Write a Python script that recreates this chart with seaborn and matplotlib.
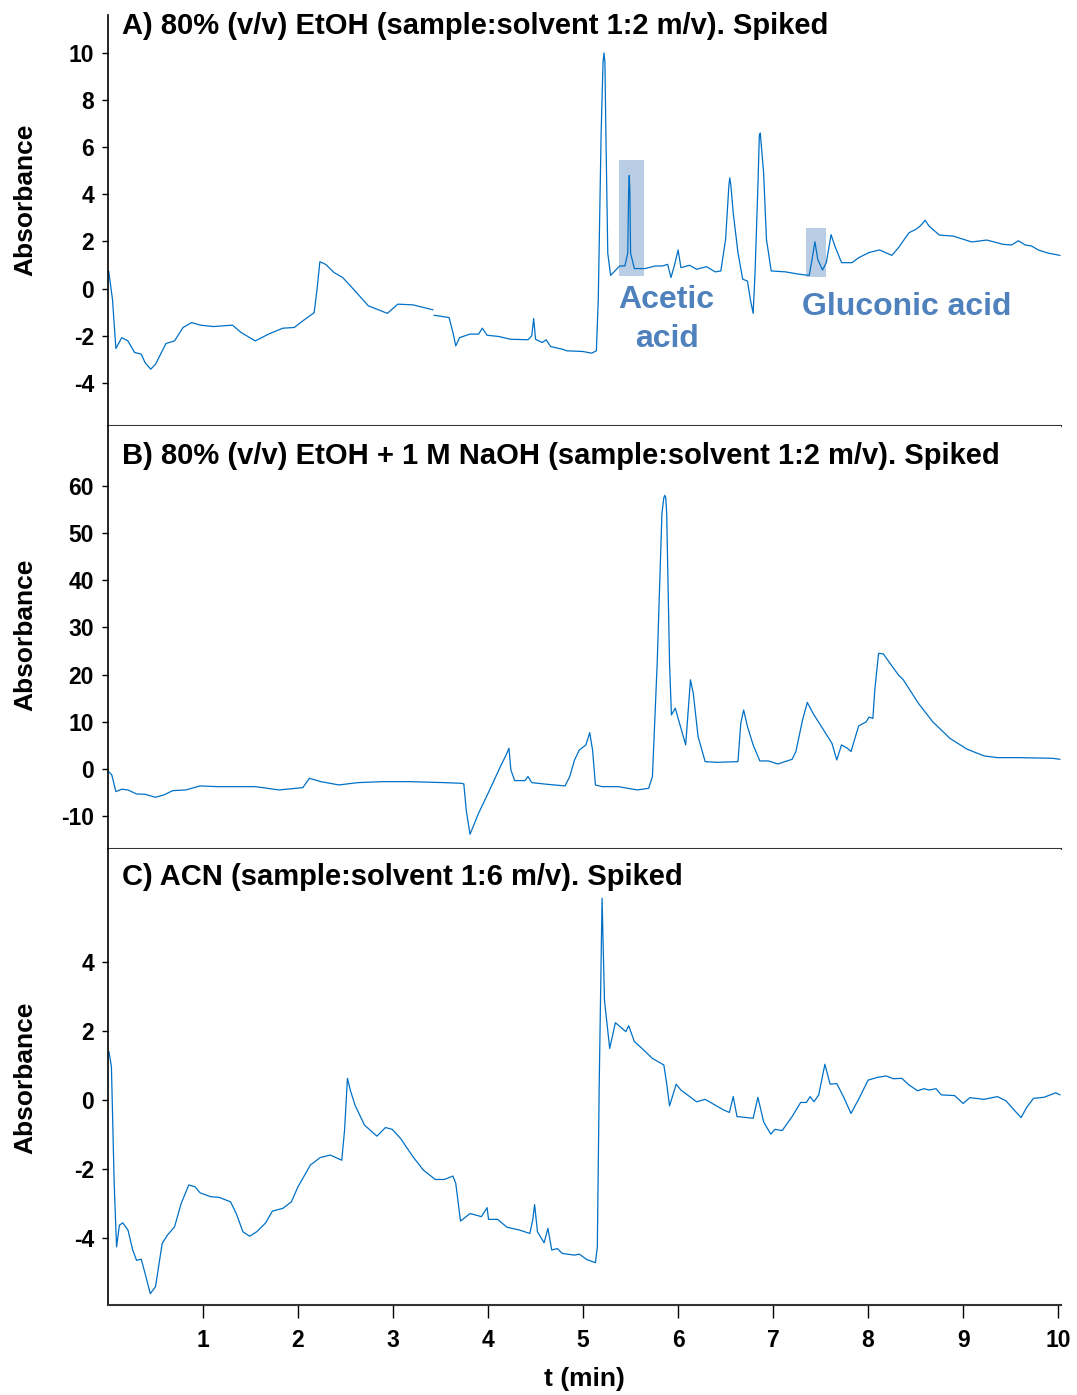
import numpy as np
import pandas as pd
import matplotlib
matplotlib.use("Agg")
import matplotlib.pyplot as plt
import seaborn as sns

sns.set_style("ticks")
plt.rcParams['font.family'] = ['Liberation Sans', 'DejaVu Sans']
plt.rcParams['axes.unicode_minus'] = False
plt.rcParams['text.color'] = 'black'
plt.rcParams['axes.labelcolor'] = 'black'
plt.rcParams['xtick.color'] = 'black'
plt.rcParams['ytick.color'] = 'black'

# --- panel A : 80% EtOH, spiked ---
tA1 = [0.007, 0.047, 0.083, 0.145, 0.21, 0.28, 0.35, 0.39, 0.45, 0.50, 0.61, 0.70, 0.79, 0.88,
       0.97, 1.11, 1.31, 1.40, 1.55, 1.69, 1.84, 1.96, 2.05, 2.17, 2.20, 2.23, 2.29, 2.38, 2.47,
       2.60, 2.74, 2.94, 3.05, 3.21, 3.42]
vA1 = [0.75, -0.45, -2.54, -2.08, -2.22, -2.71, -2.78, -3.14, -3.42, -3.21, -2.33, -2.22, -1.65, -1.44,
       -1.55, -1.61, -1.55, -1.86, -2.22, -1.93, -1.68, -1.65, -1.37, -1.02, -0.03, 1.14, 1.03, 0.68, 0.47,
       -0.10, -0.73, -1.05, -0.66, -0.69, -0.90]
tA2 = [3.43, 3.59, 3.63, 3.66, 3.70, 3.81, 3.90, 3.94, 3.99, 4.11, 4.24, 4.42, 4.46, 4.48, 4.50,
       4.57, 4.61, 4.66, 4.78, 4.83, 5.00, 5.09, 5.14, 5.16, 5.19, 5.21, 5.22, 5.23, 5.24, 5.26, 5.29, 5.385,
       5.44, 5.47, 5.48, 5.486, 5.492, 5.50, 5.54, 5.65, 5.76, 5.835, 5.89, 5.925, 5.96, 6.00, 6.03, 6.12, 6.195,
       6.30, 6.39, 6.45, 6.50, 6.535, 6.544, 6.555, 6.58, 6.63, 6.68, 6.73, 6.76, 6.79, 6.81, 6.84, 6.855, 6.865, 6.90,
       6.93, 6.98, 7.13, 7.275, 7.38, 7.41, 7.44, 7.47, 7.52, 7.56, 7.61, 7.65, 7.72, 7.83, 7.90,
       8.01, 8.12, 8.25, 8.32, 8.43, 8.50, 8.55, 8.60, 8.64, 8.75, 8.895, 9.09, 9.25, 9.42, 9.51,
       9.58, 9.655, 9.72, 9.79, 9.90, 10.02]
vA2 = [-1.13, -1.23, -1.86, -2.43, -2.08, -1.93, -1.93, -1.68, -1.98, -2.03, -2.15, -2.17, -2.0, -1.27, -2.15,
       -2.29, -2.17, -2.46, -2.57, -2.64, -2.67, -2.74, -2.64, -0.45, 6.6, 9.6, 10.0, 9.6, 6.6, 1.5, 0.56, 0.96,
       0.96, 1.5, 4.2, 4.8, 4.2, 1.5, 0.85, 0.85, 0.96, 0.96, 1.03, 0.47, 0.96, 1.64, 0.89, 0.99, 0.82,
       0.93, 0.71, 0.75, 2.09, 4.4, 4.70, 4.4, 3.22, 1.53, 0.40, 0.32, -0.45, -1.05, 0.68, 4.35, 6.5, 6.6, 4.92,
       2.09, 0.75, 0.71, 0.61, 0.56, 1.24, 1.99, 1.24, 0.79, 1.10, 2.29, 1.81, 1.10, 1.10, 1.31,
       1.53, 1.64, 1.41, 1.74, 2.37, 2.51, 2.66, 2.90, 2.66, 2.27, 2.23, 1.98, 2.06, 1.88, 1.85,
       2.03, 1.85, 1.81, 1.64, 1.50, 1.41]

# --- panel B : 80% EtOH + 1 M NaOH, spiked ---
tB = [0.007, 0.04, 0.083, 0.145, 0.21, 0.30, 0.39, 0.50, 0.59, 0.68, 0.82, 0.97, 1.15, 1.55,
      1.80, 2.05, 2.12, 2.24, 2.43, 2.63, 2.89, 3.17, 3.54, 3.72, 3.745, 3.77, 3.81, 3.90, 4.0,
      4.13, 4.19, 4.22, 4.24, 4.28, 4.39, 4.42, 4.46, 4.62, 4.81, 4.86, 4.91, 4.96, 5.03, 5.07,
      5.10, 5.13, 5.20, 5.37, 5.57, 5.69, 5.73, 5.78, 5.83, 5.85, 5.86, 5.87, 5.88, 5.91, 5.93, 5.97, 6.015,
      6.08, 6.13, 6.16, 6.21, 6.285, 6.41, 6.63, 6.66, 6.69, 6.73, 6.79, 6.86, 6.95, 7.05, 7.20,
      7.24, 7.31, 7.36, 7.42, 7.53, 7.62, 7.67, 7.72, 7.78, 7.82, 7.90, 7.98, 8.01, 8.05, 8.07,
      8.11, 8.16, 8.23, 8.32, 8.37, 8.53, 8.68, 8.86, 9.04, 9.22, 9.36, 9.58, 9.94, 10.02]
vB = [-0.57, -1.27, -4.8, -4.3, -4.45, -5.3, -5.37, -6.0, -5.5, -4.6, -4.45, -3.6, -3.75, -3.75,
      -4.45, -3.96, -1.98, -2.69, -3.39, -2.9, -2.69, -2.69, -2.9, -3.04, -3.18, -8.7, -13.85, -9.4, -5.16,
      0.5, 2.97, 4.38, -0.2, -2.47, -2.47, -1.6, -2.9, -3.25, -3.6, -1.6, 1.9, 4.0, 5.1, 7.7,
      4.0, -3.4, -3.75, -3.75, -4.45, -4.1, -1.6, 22.4, 54.2, 57.5, 58.0, 57.5, 54.2, 22.4, 11.45, 12.9, 9.7,
      5.1, 18.9, 16.0, 6.9, 1.55, 1.4, 1.55, 9.7, 12.5, 9.0, 5.1, 1.7, 1.7, 1.06, 2.05,
      3.7, 10.4, 14.1, 11.8, 8.3, 5.4, 1.9, 5.1, 4.4, 3.7, 9.1, 10.0, 11.0, 10.7, 16.7,
      24.5, 24.4, 22.4, 19.9, 18.9, 13.9, 10.0, 6.5, 4.2, 2.76, 2.4, 2.4, 2.26, 2.05]

# --- panel C : ACN, spiked ---
tC = [0.01, 0.036, 0.065, 0.09, 0.12, 0.155, 0.21, 0.26, 0.30, 0.35, 0.39, 0.445, 0.50, 0.57,
      0.625, 0.70, 0.77, 0.85, 0.915, 0.97, 1.08, 1.17, 1.29, 1.35, 1.42, 1.49, 1.565, 1.66, 1.73,
      1.84, 1.93, 2.0, 2.13, 2.235, 2.34, 2.46, 2.49, 2.52, 2.55, 2.60, 2.70, 2.83, 2.92, 2.99,
      3.08, 3.21, 3.32, 3.445, 3.54, 3.63, 3.66, 3.71, 3.81, 3.93, 3.99, 4.005, 4.10, 4.20, 4.33,
      4.44, 4.47, 4.49, 4.52, 4.59, 4.63, 4.67, 4.73, 4.78, 4.91, 4.96, 5.04, 5.13, 5.15, 5.17,
      5.20, 5.225, 5.28, 5.34, 5.45, 5.48, 5.54, 5.62, 5.73, 5.85, 5.88, 5.91, 5.98, 6.03, 6.195,
      6.285, 6.48, 6.54, 6.58, 6.62, 6.79, 6.84, 6.90, 6.93, 6.976, 7.02, 7.095, 7.20, 7.29, 7.35,
      7.39, 7.43, 7.48, 7.545, 7.60, 7.67, 7.74, 7.82, 7.905, 8.0, 8.10, 8.19, 8.265, 8.355, 8.43,
      8.52, 8.59, 8.64, 8.715, 8.77, 8.91, 9.0, 9.07, 9.22, 9.36, 9.45, 9.52, 9.61, 9.67, 9.74,
      9.85, 9.975, 10.02]
vC = [1.41, 0.97, -2.42, -4.27, -3.64, -3.57, -3.78, -4.36, -4.66, -4.63, -5.04, -5.63, -5.43, -4.17,
      -3.93, -3.69, -3.01, -2.47, -2.52, -2.70, -2.81, -2.83, -2.96, -3.30, -3.83, -3.96, -3.83, -3.57, -3.23,
      -3.15, -2.96, -2.52, -1.89, -1.67, -1.60, -1.75, -0.87, 0.63, 0.29, -0.15, -0.73, -1.05, -0.80, -0.85,
      -1.12, -1.65, -2.04, -2.31, -2.31, -2.21, -2.42, -3.52, -3.30, -3.39, -3.13, -3.47, -3.47, -3.70, -3.78,
      -3.88, -3.49, -3.04, -3.83, -4.15, -3.73, -4.36, -4.32, -4.46, -4.51, -4.48, -4.64, -4.73, -4.27, 0.48,
      5.87, 2.91, 1.50, 2.25, 1.99, 2.16, 1.70, 1.50, 1.21, 1.02, 0.48, -0.17, 0.46, 0.29, -0.05,
      0.02, -0.29, -0.36, 0.10, -0.48, -0.53, 0.08, -0.63, -0.78, -0.99, -0.85, -0.89, -0.48, -0.07, -0.07,
      0.10, -0.05, 0.15, 1.04, 0.46, 0.48, 0.10, -0.39, 0.05, 0.58, 0.66, 0.70, 0.62, 0.63, 0.44,
      0.27, 0.33, 0.29, 0.33, 0.15, 0.13, -0.10, 0.07, 0.02, 0.10, -0.02, -0.24, -0.51, -0.21, 0.05,
      0.08, 0.21, 0.15]

titles = ["A) 80% (v/v) EtOH (sample:solvent 1:2 m/v). Spiked",
          "B) 80% (v/v) EtOH + 1 M NaOH (sample:solvent 1:2 m/v). Spiked",
          "C) ACN (sample:solvent 1:6 m/v). Spiked"]
ylims = [(-5.83, 11.61), (-16.97, 72.7), (-5.96, 7.30)]
yticks = [list(range(-4, 11, 2)), list(range(-10, 61, 10)), [-4, -2, 0, 2, 4]]
xticks = list(range(1, 11))

# highlighted peaks in A: (t start, t end, v low, v high)
boxes = [(5.38, 5.645, 0.52, 5.45), (7.35, 7.56, 0.50, 2.56)]

line_col = "#0070c6"
box_col = "#b9cde5"
lab_col = "#4f81bd"

fig = plt.figure(figsize=(10.77, 13.95), dpi=100)
W, H = 1077.0, 1395.0
left, right = 108 / W, 1061 / W
rows = [(15, 426), (426, 849), (849, 1305)]
axes = []
for top, bot in rows:
    ax = fig.add_axes([left, 1 - bot / H, right - left, (bot - top) / H])
    axes.append(ax)

segs = [[(tA1, vA1), (tA2, vA2)], [(tB, vB)], [(tC, vC)]]

for i, ax in enumerate(axes):
    for tt, vv in segs[i]:
        sns.lineplot(x=tt, y=vv, ax=ax, color=line_col, lw=0.9, estimator=None, sort=False)
    ax.set_xlim(0, 10.03)
    ax.set_ylim(*ylims[i])
    ax.set_yticks(yticks[i])
    ax.set_yticklabels([str(v) for v in yticks[i]], fontsize=16.5, fontweight="bold")
    for s in ["top", "right"]:
        ax.spines[s].set_visible(False)
    ax.spines["left"].set_color("black")
    ax.spines["left"].set_linewidth(1.2)
    ax.spines["bottom"].set_color("#333333")
    ax.spines["bottom"].set_linewidth(1.5)
    ax.tick_params(axis="y", direction="out", length=4, width=1, pad=6, colors="black")
    ax.set_ylabel("Absorbance", fontsize=19, fontweight="bold")
    ax.set_xlabel("")
    ty = [0.973, 0.929, 0.939][i]
    ax.text(0.0147, ty, titles[i], transform=ax.transAxes, fontsize=21,
            fontweight="bold", va="center", ha="left", color="black")

axes[0].yaxis.set_label_coords(-0.074, 0.55)
axes[1].yaxis.set_label_coords(-0.074, 0.506)
axes[2].yaxis.set_label_coords(-0.074, 0.498)

for ax in axes[:2]:
    ax.set_xticks([])

axes[2].set_xticks(xticks)
axes[2].set_xticklabels([str(x) for x in xticks], fontsize=16.5, fontweight="bold")
axes[2].tick_params(axis="x", direction="out", length=9, width=1, pad=8, colors="black")
axes[2].set_xlabel("t (min)", fontsize=19, fontweight="bold", labelpad=11)

# acid highlights
for t0, t1, v0, v1 in boxes:
    axes[0].axvspan(t0, t1, ymin=(v0 - ylims[0][0]) / (ylims[0][1] - ylims[0][0]),
                    ymax=(v1 - ylims[0][0]) / (ylims[0][1] - ylims[0][0]),
                    color=box_col, lw=0, zorder=0)
axes[0].text(5.88, -0.47, "Acetic", color=lab_col, fontsize=23, fontweight="bold",
             ha="center", va="center")
axes[0].text(5.88, -2.12, "acid", color=lab_col, fontsize=23, fontweight="bold",
             ha="center", va="center")
axes[0].text(8.41, -0.76, "Gluconic acid", color=lab_col, fontsize=23, fontweight="bold",
             ha="center", va="center")

fig.savefig("out.png", dpi=100)
